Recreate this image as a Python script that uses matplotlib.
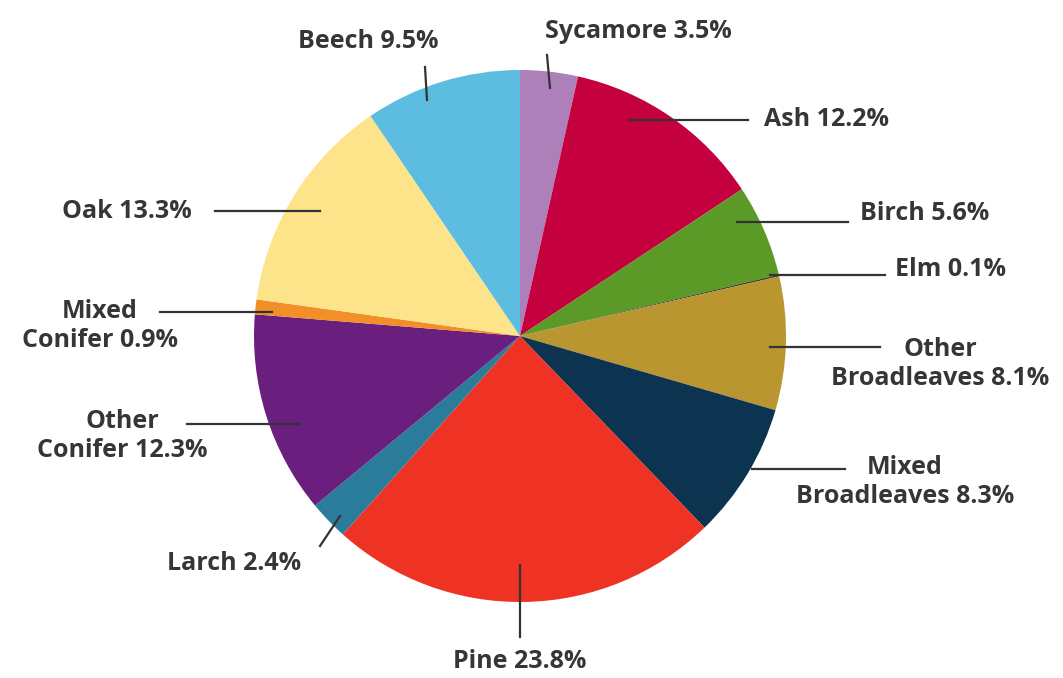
import matplotlib.pyplot as plt

species = ['Sycamore', 'Ash', 'Birch', 'Elm', 'Other\nBroadleaves', 'Mixed\nBroadleaves',
           'Pine', 'Larch', 'Other\nConifer', 'Mixed\nConifer', 'Oak', 'Beech']
shares = [3.5, 12.2, 5.6, 0.1, 8.1, 8.3, 23.8, 2.4, 12.3, 0.9, 13.3, 9.5]
colors = ['#ad80b9', '#c5003f', '#5b9a27', '#3d3d2a', '#b9962f', '#0c3451',
          '#ee3224', '#2b7c9a', '#6a1f7f', '#f29027', '#fde48b', '#5cbde0']

# label layout in pixel coords: text x, text y, ha, line start, line end
layout = [
    (545, 32, 'left', (550, 88), (547, 55)),
    (764, 120, 'left', (630, 120), (748, 120)),
    (860, 213, 'left', (737, 222), (848, 222)),
    (895, 269, 'left', (770, 275), (885, 275)),
    (940, 364, 'center', (770, 347), (880, 347)),
    (905, 482, 'center', (752, 469), (845, 469)),
    (520, 662, 'center', (520, 565), (520, 637)),
    (234, 563, 'center', (340, 516), (320, 546)),
    (122, 436, 'center', (300, 424), (187, 424)),
    (100, 326, 'center', (272, 312), (160, 312)),
    (127, 211, 'center', (320, 211), (215, 211)),
    (368, 42, 'center', (427, 100), (425, 67)),
]

H = 678
fig = plt.figure(figsize=(10.63, 6.78), dpi=100)
ax = fig.add_axes([0, 0, 1, 1])

ax.pie(shares, colors=colors, startangle=90, counterclock=False,
       center=(520, H - 336), radius=266, wedgeprops={'linewidth': 0})

ax.set_xlim(0, 1063)
ax.set_ylim(0, H)
ax.set_aspect('equal')
ax.axis('off')

for name, val, (tx, ty, ha, p0, p1) in zip(species, shares, layout):
    ax.plot([p0[0], p1[0]], [H - p0[1], H - p1[1]], color='#333333', lw=1.6)
    ax.text(tx, H - ty, f'{name} {val}%', ha=ha, va='center', fontsize=18,
            fontweight='bold', family=['Open Sans', 'DejaVu Sans'],
            color='#363636', linespacing=1.2, multialignment='center')

plt.savefig('out.png', dpi=100)
